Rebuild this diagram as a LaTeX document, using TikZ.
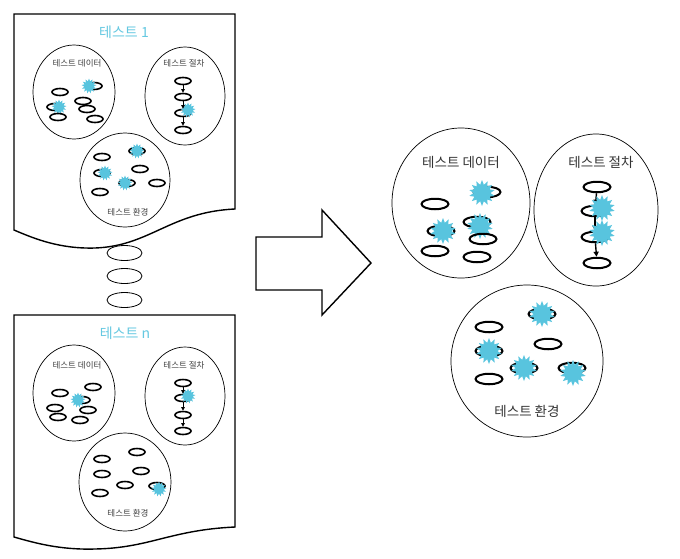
\documentclass[tikz,border=0pt]{standalone}
\usepackage{fontspec}
\setmainfont{Noto Sans CJK KR}
\usetikzlibrary{shapes.geometric,arrows.meta}
\definecolor{starc}{RGB}{88,196,222}
\definecolor{titc}{RGB}{100,200,225}
\tikzset{
  docshape/.style={draw=black,line width=1.4pt,fill=white},
  bigell/.style={draw=black,line width=0.7pt},
  sov/.style={draw=black,ellipse,line width=1.6pt,minimum width=16pt,minimum height=7pt,inner sep=0pt},
  lov/.style={draw=black,ellipse,line width=2pt,minimum width=27pt,minimum height=10.5pt,inner sep=0pt},
  mov/.style={draw=black,ellipse,line width=0.8pt,minimum width=35pt,minimum height=15pt,inner sep=0pt},
  sstar/.style={star,star points=13,star point ratio=1.6,fill=starc,draw=none,minimum size=15pt,inner sep=0pt},
  lstar/.style={star,star points=14,star point ratio=1.55,fill=starc,draw=none,minimum size=26pt,inner sep=0pt},
  sarr/.style={-{Triangle[length=3.5pt,width=3.5pt]},line width=1pt},
  larr/.style={-{Triangle[length=5pt,width=5pt]},line width=1.4pt},
  ttl/.style={text=titc,font=\fontsize{14}{16}\selectfont},
  slab/.style={font=\fontsize{8.5}{10}\selectfont,text=black!75},
  llab/.style={font=\fontsize{13.5}{15}\selectfont,text=black!80},
}
\begin{document}
\begin{tikzpicture}[x=1pt,y=-1pt]
\useasboundingbox (0,0) rectangle (680,558);
% ---------- document 1 ----------
\draw[docshape] (14,14) -- (235,14) -- (235,209)
  .. controls (170,212) and (150,246) .. (95,248)
  .. controls (60,249) and (35,239) .. (14,230) -- cycle;
\node[ttl] (t1) at (124,32) {테스트 1};
\node[bigell,ellipse,minimum width=82pt,minimum height=94pt] (d1E) at (74,92) {};
\node[bigell,ellipse,minimum width=80pt,minimum height=98pt] (p1E) at (185,96) {};
\node[bigell,ellipse,minimum width=90pt,minimum height=94pt,fill=white] (e1E) at (125,180) {};
\node[slab] (d1L) at (77,63) {테스트 데이터};
\node[slab] (p1L) at (184,63) {테스트 절차};
\node[slab] (e1L) at (128,212) {테스트 환경};
% data 1
\node[sov] (a1) at (60,92) {};
\node[sov] (a2) at (94,86) {};
\node[sstar] (a2s) at (89,86) {};
\node[sov] (a3) at (55,107) {};
\node[sstar] (a3s) at (59,107) {};
\node[sov] (a4) at (83,101) {};
\node[sov] (a5) at (87,109) {};
\node[sov] (a6) at (58,117) {};
\node[sov] (a7) at (95,119) {};
% procedure 1
\node[sov] (b1) at (183,81) {};
\node[sov] (b2) at (183,97) {};
\node[sov] (b3) at (183,113) {};
\node[sov] (b4) at (183,130) {};
\node[sstar] (b3s) at (188,110) {};
\draw[sarr] (b1) -- (b2);
\draw[sarr] (b2) -- (b3);
\draw[sarr] (b3) -- (b4);
% environment 1
\node[sov] (c1) at (102,157) {};
\node[sov] (c2) at (137,151) {};
\node[sstar] (c2s) at (137,151) {};
\node[sov] (c3) at (102,173) {};
\node[sstar] (c3s) at (105,173) {};
\node[sov] (c4) at (140,169) {};
\node[sov] (c5) at (127,183) {};
\node[sstar] (c5s) at (125,183) {};
\node[sov] (c6) at (157,183) {};
\node[sov] (c7) at (100,192) {};
% ---------- middle ovals ----------
\node[mov] (m1) at (124.5,253) {};
\node[mov] (m2) at (124.5,276) {};
\node[mov] (m3) at (124.5,300) {};
% ---------- document n ----------
\draw[docshape] (14,315) -- (235,315) -- (235,527)
  .. controls (170,530) and (150,548) .. (95,549)
  .. controls (60,550) and (35,543) .. (14,537) -- cycle;
\node[ttl] (t2) at (125,333) {테스트 n};
\node[bigell,ellipse,minimum width=82pt,minimum height=96pt] (d2E) at (74,393) {};
\node[bigell,ellipse,minimum width=80pt,minimum height=98pt] (p2E) at (185,396) {};
\node[bigell,ellipse,minimum width=92pt,minimum height=98pt,fill=white] (e2E) at (125,482) {};
\node[slab] (d2L) at (77,365) {테스트 데이터};
\node[slab] (p2L) at (184,365) {테스트 절차};
\node[slab] (e2L) at (128,513) {테스트 환경};
% data n
\node[sov] (f1) at (60,393) {};
\node[sov] (f2) at (93,387) {};
\node[sov] (f3) at (82,400) {};
\node[sstar] (f3s) at (78,400) {};
\node[sov] (f4) at (55,408) {};
\node[sov] (f5) at (88,410) {};
\node[sov] (f6) at (58,417) {};
\node[sov] (f7) at (80,420) {};
% procedure n
\node[sov] (g1) at (183,383) {};
\node[sov] (g2) at (183,398) {};
\node[sov] (g3) at (183,415) {};
\node[sov] (g4) at (183,431) {};
\node[sstar] (g2s) at (188,396) {};
\draw[sarr] (g1) -- (g2);
\draw[sarr] (g2) -- (g3);
\draw[sarr] (g3) -- (g4);
% environment n
\node[sov] (h1) at (102,459) {};
\node[sov] (h2) at (137,452) {};
\node[sov] (h3) at (102,474) {};
\node[sov] (h4) at (141,471) {};
\node[sov] (h5) at (125,485) {};
\node[sov] (h6) at (157,486) {};
\node[sstar] (h6s) at (159,489) {};
\node[sov] (h7) at (100,493) {};
% ---------- block arrow ----------
\draw[line width=1.4pt,line join=miter] (256,237) -- (322,237) -- (322,210) -- (371,263)
  -- (322,315) -- (322,290) -- (256,290) -- cycle;
% ---------- right side ----------
\node[bigell,ellipse,minimum width=138pt,minimum height=150pt] (dR) at (461,203) {};
\node[bigell,ellipse,minimum width=124pt,minimum height=152pt] (pR) at (596,210) {};
\node[bigell,ellipse,minimum width=152pt,minimum height=152pt] (eR) at (527,361) {};
\node[llab] (dRL) at (461,162) {테스트 데이터};
\node[llab] (pRL) at (601,162) {테스트 절차};
\node[llab] (eRL) at (527,411) {테스트 환경};
% data right
\node[lov] (r1) at (435,204) {};
\node[lov] (r2) at (487,192) {};
\node[lstar] (r2s) at (482,193) {};
\node[lov] (r3) at (441,231) {};
\node[lstar] (r3s) at (443,231) {};
\node[lov] (r4) at (477,222) {};
\node[lstar] (r4s) at (480,226) {};
\node[lov] (r5) at (483,239) {};
\node[lov] (r6) at (435,251) {};
\node[lov] (r7) at (477,257) {};
% procedure right
\node[lov] (s1) at (597,187) {};
\node[lov] (s2) at (595,211) {};
\node[lov] (s3) at (595,237) {};
\node[lov] (s4) at (597,263) {};
\draw[larr] (s1) -- (s2);
\draw[larr] (s2) -- (s3);
\draw[larr] (s3) -- (s4);
\node[lstar] (s2s) at (602,208) {};
\node[lstar] (s3s) at (602,233) {};
% environment right
\node[lov] (u1) at (489,327) {};
\node[lov] (u2) at (542,314) {};
\node[lstar] (u2s) at (542,314) {};
\node[lov] (u3) at (489,351) {};
\node[lstar] (u3s) at (489,351) {};
\node[lov] (u4) at (548,344) {};
\node[lov] (u5) at (524,368) {};
\node[lstar] (u5s) at (524,368) {};
\node[lov] (u6) at (572,368) {};
\node[lstar] (u6s) at (573,373) {};
\node[lov] (u7) at (489,379) {};
\end{tikzpicture}
\end{document}
